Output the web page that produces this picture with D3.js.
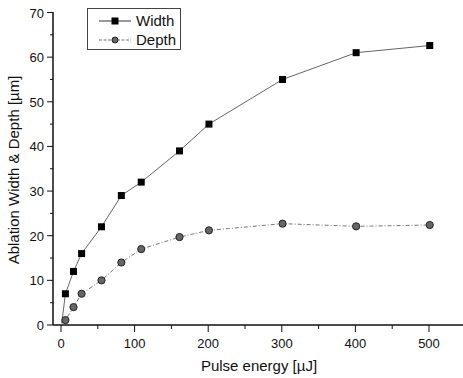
<!DOCTYPE html>
<html lang="en">
<head>
<meta charset="UTF-8">
<title>Ablation Width & Depth</title>
<script src="https://d3js.org/d3.v7.min.js"></script>
<style>
  body { margin: 0; background: #fff; }
  svg text { font-family: "Liberation Sans", Arial, sans-serif; fill: #111; }
</style>
</head>
<body>
<div id="chart"></div>
<script>
// data
const widthEnergy = [1, 6, 17, 28, 55, 82, 109, 161, 201, 301, 401, 501];
const widthValues = [0.4, 7, 12, 16, 22, 29, 32, 39, 45, 55, 61, 62.6];
const depthEnergy = [1, 6, 17, 28, 55, 82, 109, 161, 201, 301, 401, 501];
const depthValues = [0.3, 1.1, 4, 7, 10, 14, 17, 19.7, 21.2, 22.7, 22.1, 22.4];
const xTicks = [0, 100, 200, 300, 400, 500];
const yTicks = [0, 10, 20, 30, 40, 50, 60, 70];
const seriesNames = ["Width", "Depth"];

const W = 463, H = 378;
const svg = d3.select("#chart").append("svg")
  .attr("width", W).attr("height", H);

const x = d3.scaleLinear().domain([0, 500]).range([61, 429]);
const y = d3.scaleLinear().domain([0, 70]).range([325, 12.5]);

// axes
const xAxis = svg.append("g").attr("transform", "translate(0,325)");
xAxis.append("line").attr("x1", 53).attr("x2", 463).attr("stroke", "#111").attr("stroke-width", 1.5);
xAxis.selectAll(".minor").data(d3.range(50, 550, 100)).enter().append("line")
  .attr("x1", d => x(d)).attr("x2", d => x(d)).attr("y1", 0).attr("y2", 4)
  .attr("stroke", "#111");
xAxis.selectAll(".major").data(xTicks).enter().append("line")
  .attr("x1", d => x(d)).attr("x2", d => x(d)).attr("y1", 0).attr("y2", 7)
  .attr("stroke", "#111");
xAxis.selectAll("text").data(xTicks).enter().append("text")
  .attr("x", d => x(d)).attr("y", 23).attr("text-anchor", "middle")
  .attr("font-size", 13).text(d => d);

const yAxis = svg.append("g").attr("transform", "translate(53,0)");
yAxis.append("line").attr("y1", 325).attr("y2", 12).attr("stroke", "#111").attr("stroke-width", 1.5);
yAxis.selectAll(".minor").data(d3.range(5, 70, 10)).enter().append("line")
  .attr("y1", d => y(d)).attr("y2", d => y(d)).attr("x1", 0).attr("x2", -3)
  .attr("stroke", "#111");
yAxis.selectAll(".major").data(yTicks).enter().append("line")
  .attr("y1", d => y(d)).attr("y2", d => y(d)).attr("x1", 0).attr("x2", -6)
  .attr("stroke", "#111");
yAxis.selectAll("text").data(yTicks).enter().append("text")
  .attr("x", -9).attr("y", d => y(d) + 5).attr("text-anchor", "end")
  .attr("font-size", 13).text(d => d);

// axis titles
svg.append("text").attr("x", 259).attr("y", 371).attr("text-anchor", "middle")
  .attr("font-size", 15).text("Pulse energy [\u00b5J]");
svg.append("text").attr("transform", "translate(19,170) rotate(-90)")
  .attr("text-anchor", "middle").attr("font-size", 15)
  .text("Ablation Width & Depth [\u00b5m]");

// series
const widthData = widthEnergy.map((e, i) => [e, widthValues[i]]);
const depthData = depthEnergy.map((e, i) => [e, depthValues[i]]);
const line = d3.line().x(d => x(d[0])).y(d => y(d[1]));

svg.append("path").datum(depthData).attr("d", line)
  .attr("fill", "none").attr("stroke", "#777").attr("stroke-width", 1)
  .attr("stroke-dasharray", "4,2,1,2");
svg.append("path").datum(widthData).attr("d", line)
  .attr("fill", "none").attr("stroke", "#666").attr("stroke-width", 1);

svg.selectAll(".dpt").data(depthData.slice(1)).enter().append("circle")
  .attr("cx", d => x(d[0])).attr("cy", d => y(d[1])).attr("r", 3.6)
  .attr("fill", "#666").attr("stroke", "#222").attr("stroke-width", 1);
svg.selectAll(".wpt").data(widthData.slice(1)).enter().append("rect")
  .attr("x", d => x(d[0]) - 3.5).attr("y", d => y(d[1]) - 3.5)
  .attr("width", 7).attr("height", 7).attr("fill", "#000");

// legend
const lg = svg.append("g");
lg.append("rect").attr("x", 87.5).attr("y", 8.5).attr("width", 93).attr("height", 41)
  .attr("fill", "#fff").attr("stroke", "#444").attr("stroke-width", 1);
seriesNames.forEach((name, i) => {
  const ly = 21 + i * 19;
  lg.append("line").attr("x1", 99).attr("x2", 131).attr("y1", ly).attr("y2", ly)
    .attr("stroke", i === 0 ? "#333" : "#777").attr("stroke-width", 1)
    .attr("stroke-dasharray", i === 0 ? null : "3,1.5");
  if (i === 0) {
    lg.append("rect").attr("x", 111.5).attr("y", ly - 3.5).attr("width", 7).attr("height", 7).attr("fill", "#000");
  } else {
    lg.append("circle").attr("cx", 115).attr("cy", ly).attr("r", 3)
      .attr("fill", "#666").attr("stroke", "#222");
  }
  lg.append("text").attr("x", 136).attr("y", ly + 5).attr("font-size", 15).text(name);
});
</script>
</body>
</html>
